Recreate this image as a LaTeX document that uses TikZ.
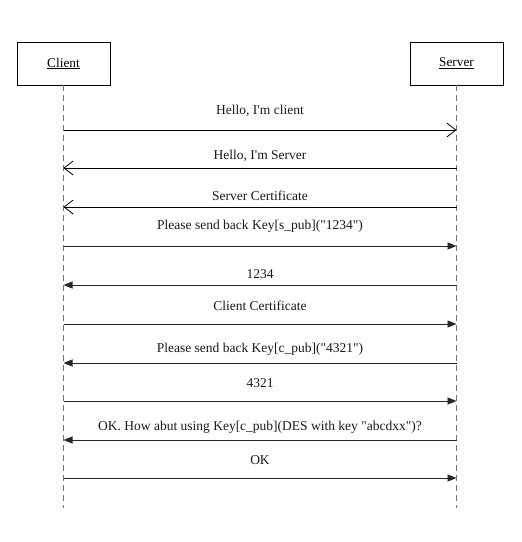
\documentclass[tikz,border=0pt]{standalone}
\usepackage{fontspec}
\newfontfamily\lbfont{Liberation Serif}
\usetikzlibrary{arrows.meta}
\begin{document}
\begin{tikzpicture}[x=1pt,y=-1pt,
  actor/.style={draw=black,line width=0.8pt,minimum width=93pt,minimum height=43pt,inner sep=0pt,font=\lbfont\fontsize{13.3}{16}\selectfont},
  lifeline/.style={draw=black!55,dashed,dash pattern=on 6pt off 4pt,line width=0.9pt},
  openmsg/.style={draw=black,line width=0.8pt,-{Straight Barb[length=9pt,width=14pt,line width=0.8pt]}},
  fillmsg/.style={draw=black!85,line width=0.9pt,-{Triangle[length=9pt,width=7pt]}},
  lbl/.style={font=\lbfont\fontsize{13.5}{16}\selectfont,inner sep=0pt,text=black!90}]
\useasboundingbox (0,0) rectangle (522,542);
\node[actor] (client) at (63.5,63.5) {\underline{Client}};
\node[actor] (server) at (456.5,63.5) {\underline{Server}};
\coordinate (cend) at (63.5,508);
\coordinate (send) at (456.5,508);
\draw[lifeline] (client.south) -- (cend);
\draw[lifeline] (server.south) -- (send);
\foreach \i/\y in {1/130,2/168,3/207,4/246,5/285,6/324,7/363,8/401,9/440,10/478}{
  \coordinate (c\i) at (63.5,\y);
  \coordinate (s\i) at (456.5,\y);
}
\draw[openmsg] (c1) -- (s1) node[lbl,midway,above=13pt] (m1) {Hello, I'm client};
\draw[openmsg] (s2) -- (c2) node[lbl,midway,above=6pt] (m2) {Hello, I'm Server};
\draw[openmsg] (s3) -- (c3) node[lbl,midway,above=6pt] (m3) {Server Certificate};
\draw[fillmsg] (c4) -- (s4) node[lbl,midway,above=13pt] (m4) {Please send back Key[s\_pub]("1234")};
\draw[fillmsg] (s5) -- (c5) node[lbl,midway,above=6pt] (m5) {1234};
\draw[fillmsg] (c6) -- (s6) node[lbl,midway,above=13pt] (m6) {Client Certificate};
\draw[fillmsg] (s7) -- (c7) node[lbl,midway,above=7pt] (m7) {Please send back Key[c\_pub]("4321")};
\draw[fillmsg] (c8) -- (s8) node[lbl,midway,above=13pt] (m8) {4321};
\draw[fillmsg] (s9) -- (c9) node[lbl,midway,above=6pt] (m9) {OK. How abut using Key[c\_pub](DES with key "abcdxx")?};
\draw[fillmsg] (c10) -- (s10) node[lbl,midway,above=13pt] (m10) {OK};
\end{tikzpicture}
\end{document}
